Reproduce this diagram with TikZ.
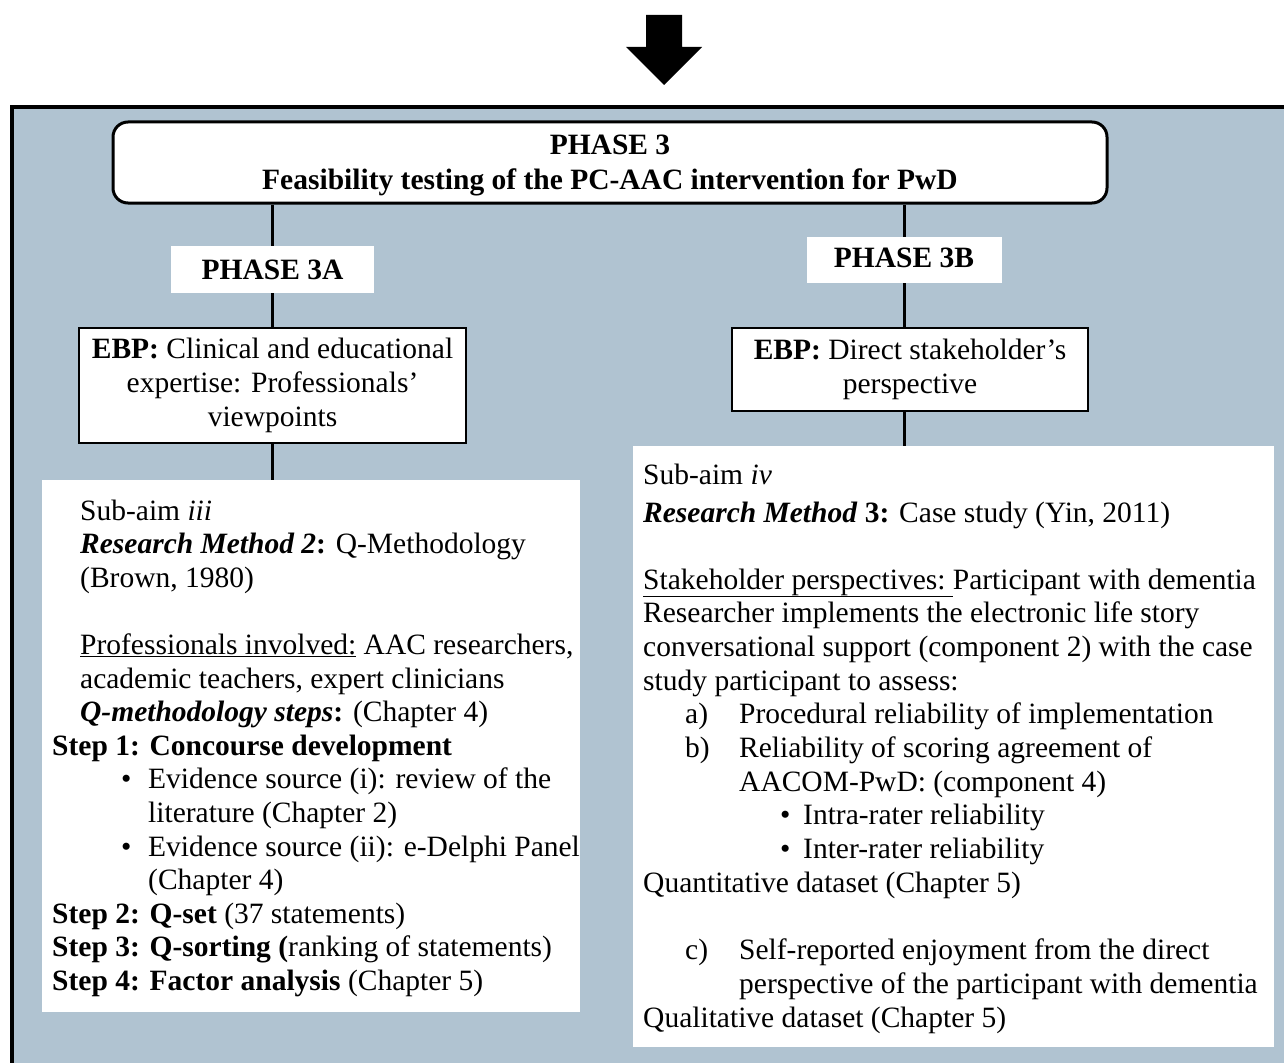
\documentclass[tikz,border=0pt]{standalone}
\usepackage{fontspec}
\setmainfont{Liberation Serif}
\newcommand\diagfont{\fontsize{29.5}{34.2}\selectfont}
\definecolor{framefill}{RGB}{176,195,209}
\begin{document}
\begin{tikzpicture}[x=1pt,y=-1pt,
  txt/.style={anchor=base west, inner sep=0pt, font=\diagfont},
  whitebox/.style={fill=white, draw=none, inner sep=0pt, anchor=north west},
  ebpbox/.style={draw=black, line width=2.5pt, fill=white, font=\diagfont, align=center, inner sep=0pt},
  phasebox/.style={fill=white, draw=none, font=\diagfont\bfseries, inner sep=0pt},
  link/.style={line width=3pt}]
\useasboundingbox (0,0) rectangle (1284,1062);
\clip (0,0) rectangle (1284,1062);

% block arrow on top
\fill[black] (646,15) -- (682,15) -- (682,47) -- (702,47) -- (664,85) -- (626,47) -- (646,47) -- cycle;

% outer frame (continues beyond the right and bottom edges)
\fill[framefill] (12,107) rectangle (1310,1090);
\draw[line width=4pt] (1310,107) -- (12,107) -- (12,1090);

% phase 3 header
\node[draw=black, line width=3pt, rounded corners=15pt, fill=white, minimum width=994pt, minimum height=81pt,
      inner sep=0pt] (p3) at (610,162.5) {};
\node[inner sep=0pt, font=\diagfont\bfseries, align=center] (p3t) at (610,165.5)
  {PHASE 3\\Feasibility testing of the PC-AAC intervention for PwD};

% sub-phase labels
\node[phasebox, minimum width=203pt, minimum height=47pt] (a3) at (272.5,269.5) {PHASE 3A};
\node[phasebox, minimum width=195pt, minimum height=46pt] (b3) at (904,260) {\raisebox{4pt}{PHASE 3B}};

% EBP boxes
\node[ebpbox, minimum width=387pt, minimum height=115pt] (ebpL) at (272.5,385.5)
  {\textbf{EBP:} Clinical and educational\\expertise: Professionals’\\viewpoints};
\node[ebpbox, minimum width=356pt, minimum height=83pt] (ebpR) at (910,369.5)
  {\textbf{EBP:} Direct stakeholder’s\\perspective};

% detail boxes
\node[whitebox, minimum width=538pt, minimum height=532pt] (boxL) at (42,480) {};
\node[whitebox, minimum width=641pt, minimum height=601pt] (boxR) at (633,446) {};

% connectors
\draw[link] (a3.north) -- (a3.north |- p3.south);
\draw[link] (a3.south) -- (a3.south |- ebpL.north);
\draw[link] (ebpL.south -| a3.south) -- (boxL.north -| a3.south);
\draw[link] (b3.north) -- (b3.north |- p3.south);
\draw[link] (b3.south) -- (b3.south |- ebpR.north);
\draw[link] (ebpR.south -| b3.south) -- (boxR.north -| b3.south);

% left column text
\node[txt] (l0)  at (80,520.0) {Sub-aim \textit{iii}};
\node[txt] (l1)  at (80,553.6) {\textbf{\textit{Research Method 2}:} Q-Methodology};
\node[txt] (l2)  at (80,587.2) {(Brown, 1980)};
\node[txt] (l4)  at (80,654.4) {\underline{Professionals involved:} AAC researchers,};
\node[txt] (l5)  at (80,688.0) {academic teachers, expert clinicians};
\node[txt] (l6)  at (80,721.6) {\textbf{\textit{Q-methodology steps}:} (Chapter 4)};
\node[txt] (l7)  at (52,755.2) {\textbf{Step 1: Concourse development}};
\node[txt] (l8b) at (121,788.8) {•};
\node[txt] (l8)  at (148,788.8) {Evidence source (i): review of the};
\node[txt] (l9)  at (148,822.4) {literature (Chapter 2)};
\node[txt] (l10b) at (121,856.0) {•};
\node[txt] (l10) at (148,856.0) {Evidence source (ii): e-Delphi Panel};
\node[txt] (l11) at (148,889.6) {(Chapter 4)};
\node[txt] (l12) at (52,923.2) {\textbf{Step 2: Q-set} (37 statements)};
\node[txt] (l13) at (52,956.8) {\textbf{Step 3: Q-sorting (}ranking of statements)};
\node[txt] (l14) at (52,990.4) {\textbf{Step 4: Factor analysis} (Chapter 5)};

% right column text
\node[txt] (r0)  at (643,484) {Sub-aim \textit{iv}};
\node[txt] (r1)  at (643,522) {\textbf{\textit{Research Method} 3:} Case study (Yin, 2011)};
\node[txt] (r3)  at (643,589.0) {\underline{Stakeholder perspectives:\ }Participant with dementia};
\node[txt] (r4)  at (643,622.7) {Researcher implements the electronic life story};
\node[txt] (r5)  at (643,656.4) {conversational support (component 2) with the case};
\node[txt] (r6)  at (643,690.1) {study participant to assess:};
\node[txt] (r7a) at (685,723.8) {a)};
\node[txt] (r7)  at (739,723.8) {Procedural reliability of implementation};
\node[txt] (r8a) at (685,757.5) {b)};
\node[txt] (r8)  at (739,757.5) {Reliability of scoring agreement of};
\node[txt] (r9)  at (739,791.2) {AACOM-PwD: (component 4)};
\node[txt] (r10b) at (780,824.9) {•};
\node[txt] (r10) at (803,824.9) {Intra-rater reliability};
\node[txt] (r11b) at (780,858.6) {•};
\node[txt] (r11) at (803,858.6) {Inter-rater reliability};
\node[txt] (r12) at (643,892.3) {Quantitative dataset (Chapter 5)};
\node[txt] (r14a) at (685,959.7) {c)};
\node[txt] (r14) at (739,959.7) {Self-reported enjoyment from the direct};
\node[txt] (r15) at (739,993.4) {perspective of the participant with dementia};
\node[txt] (r16) at (643,1027.1) {Qualitative dataset (Chapter 5)};
\end{tikzpicture}
\end{document}
